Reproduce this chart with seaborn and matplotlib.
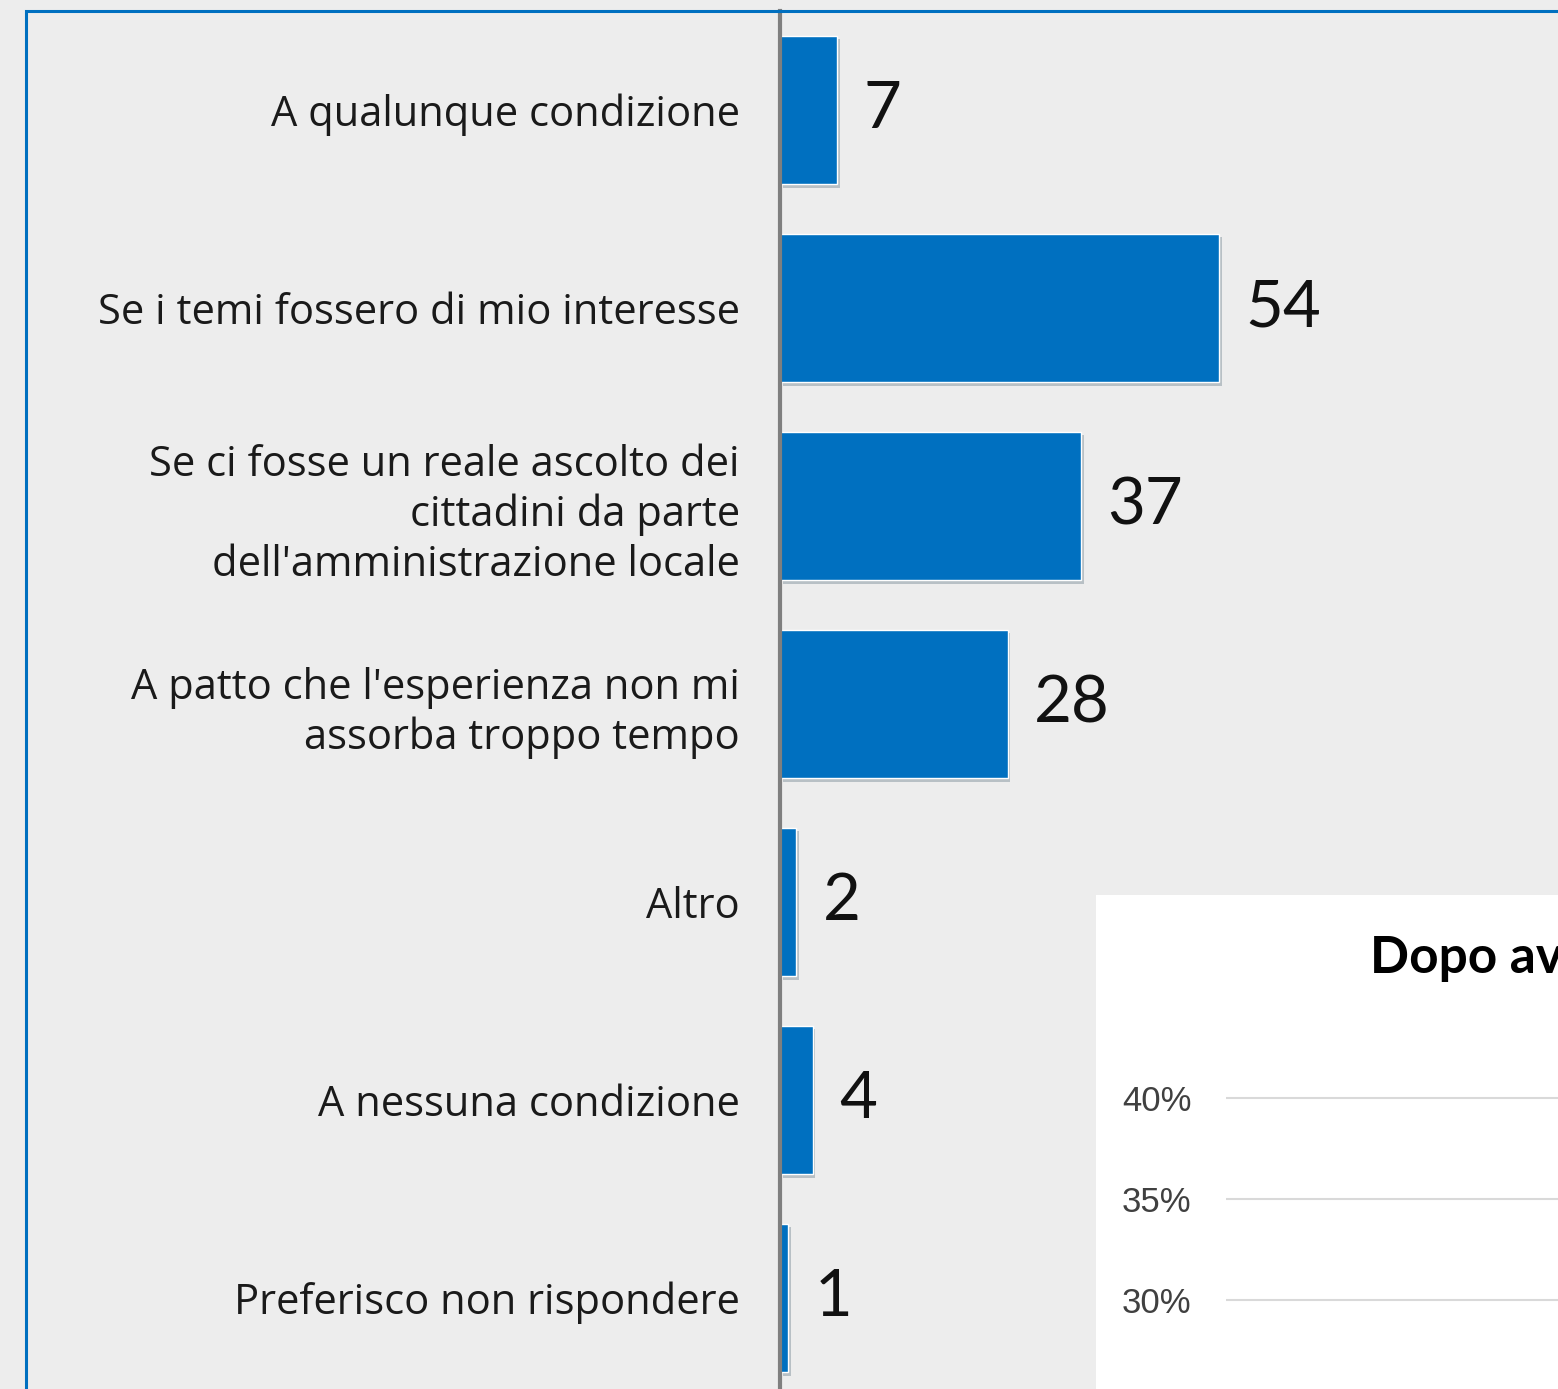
import matplotlib
matplotlib.use('Agg')
import matplotlib.pyplot as plt
import matplotlib.patches as mpatches
import matplotlib.patheffects as pe
from matplotlib import font_manager
import pandas as pd
import seaborn as sns

# Data
categories = [
    'A qualunque condizione',
    'Se i temi fossero di mio interesse',
    'Se ci fosse un reale ascolto dei\ncittadini da parte\ndell\'amministrazione locale',
    'A patto che l\'esperienza non mi\nassorba troppo tempo',
    'Altro',
    'A nessuna condizione',
    'Preferisco non rispondere',
]
values = [7, 54, 37, 28, 2, 4, 1]

# second (overlapping) chart, only partly visible
inset_title = 'Dopo aver'
inset_ticks = [25, 30, 35, 40]

W, H = 1558, 1389


def fx(px):
    return px / W


def fy(py):
    # pixel measured from the top -> figure fraction
    return 1 - py / H


installed = {f.name for f in font_manager.fontManager.ttflist}
if 'Liberation Sans Narrow' in installed:
    label_font, label_size = 'Liberation Sans Narrow', 37
else:
    label_font, label_size = 'Open Sans', 30

sns.set_theme(style='white')
plt.rcParams['font.family'] = ['Lato', 'DejaVu Sans']

bg = '#EDEDED'
blue = '#0070C0'

fig = plt.figure(figsize=(W / 100, H / 100), dpi=100, facecolor=bg)

# blue frame of the chart area (left and top edges visible)
fig.patches.append(mpatches.Rectangle(
    (fx(26), fy(1450)), 2, fy(11) - fy(1450), transform=fig.transFigure,
    fill=False, edgecolor=blue, linewidth=2.2, zorder=0))

# white panel of the overlapping chart
fig.patches.append(mpatches.Rectangle(
    (fx(1096), fy(1450)), 1, fy(895) - fy(1450), transform=fig.transFigure,
    facecolor='white', edgecolor='none', zorder=1))

# main bar chart
ax = fig.add_axes([fx(780), fy(1397), 1 - fx(780), (1397 - 11) / H])
ax.set_facecolor('none')
df = pd.DataFrame({'cat': categories, 'val': values})
sns.barplot(data=df, x='val', y='cat', color=blue, saturation=1,
            width=0.75, orient='h', ax=ax)
ax.set_ylim(6.5, -0.5)
ax.set_xlim(0, (W - 780) / 8.13)
ax.set_xticks([])
ax.set_xlabel('')
ax.set_ylabel('')
for s in ['top', 'right', 'bottom']:
    ax.spines[s].set_visible(False)
ax.spines['left'].set_color('#7F7F7F')
ax.spines['left'].set_linewidth(3)
ax.tick_params(axis='y', length=0, pad=29, labelsize=label_size, labelcolor='#1A1A1A')
for lab in ax.get_yticklabels():
    lab.set_fontfamily(label_font)
    lab.set_linespacing(1.25)

for bar in ax.patches:
    bar.set_path_effects([pe.SimplePatchShadow(offset=(2, -2.5), alpha=0.22),
                          pe.Normal()])

ax.bar_label(ax.containers[0], fmt='%d', padding=19, fontsize=47, color='#111111')

# overlapping second chart: title and y grid
ia = fig.add_axes([fx(1226), fy(1450), 1.0, (1450 - 1050) / H])
ia.set_zorder(2)
ia.set_facecolor('none')
ia.set_ylim(40 - (1450 - 1098) / 20.2, 40 + (1098 - 1050) / 20.2)
ia.set_yticks(inset_ticks)
ia.set_yticklabels([f'{t}%' for t in inset_ticks])
ia.set_xticks([])
ia.grid(axis='y', color='#D9D9D9', linewidth=1.5)
for s in ia.spines.values():
    s.set_visible(False)
ia.tick_params(axis='y', length=0, pad=25, labelsize=25, labelcolor='#404040')
for lab in ia.get_yticklabels():
    lab.set_fontfamily('Liberation Sans')

fig.text(fx(1370), fy(958), inset_title, fontsize=37, fontweight='bold',
         ha='left', va='center', color='black', zorder=3)

fig.savefig('out.png', dpi=100, facecolor=bg)
